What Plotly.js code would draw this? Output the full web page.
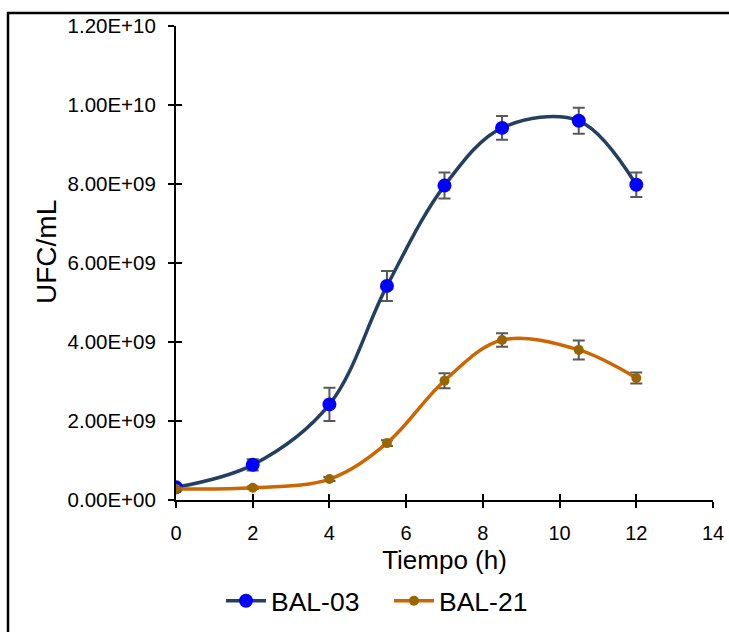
<!DOCTYPE html>
<html>
<head>
<meta charset="utf-8">
<script src="https://cdn.plot.ly/plotly-3.0.1.min.js"></script>
<style>
html,body{margin:0;padding:0;background:#fff;}
#chart{width:729px;height:632px;}
</style>
</head>
<body>
<div id="chart"></div>
<script>
// Data
const tiempo = [0, 2, 4, 5.5, 7, 8.5, 10.5, 12];
const bal03 = [0.32e9, 0.89e9, 2.42e9, 5.42e9, 7.96e9, 9.42e9, 9.60e9, 7.98e9];
const bal03Err = [0.05e9, 0.14e9, 0.42e9, 0.38e9, 0.33e9, 0.30e9, 0.33e9, 0.31e9];
const bal21 = [0.28e9, 0.31e9, 0.53e9, 1.44e9, 3.02e9, 4.05e9, 3.80e9, 3.09e9];
const bal21Err = [0.03e9, 0.03e9, 0.05e9, 0.07e9, 0.19e9, 0.17e9, 0.24e9, 0.14e9];
const yTickVals = [0, 2e9, 4e9, 6e9, 8e9, 1e10, 1.2e10];
const yTickText = ['0.00E+00', '2.00E+09', '4.00E+09', '6.00E+09', '8.00E+09', '1.00E+10', '1.20E+10'];
const xTickVals = [0, 2, 4, 6, 8, 10, 12, 14];

const fontFam = 'Liberation Sans, Arial, sans-serif';
const L = 176, R = 16, T = 26, B = 132, W = 729, H = 632;
const pw = W - L - R, ph = H - T - B;
const px2x = p => (p - L) / pw;
const px2y = p => (H - B - p) / ph;

const traces = [
  {
    x: tiempo, y: bal03, name: 'BAL-03', type: 'scatter', mode: 'lines+markers',
    line: {color: '#243F60', width: 3.5, shape: 'spline', smoothing: 1},
    marker: {color: '#0000FF', size: 14},
    error_y: {type: 'data', array: bal03Err, visible: true, color: '#595959', thickness: 2, width: 6}
  },
  {
    x: tiempo, y: bal21, name: 'BAL-21', type: 'scatter', mode: 'lines+markers',
    line: {color: '#CC6600', width: 3.5, shape: 'spline', smoothing: 1},
    marker: {color: '#996600', size: 10},
    error_y: {type: 'data', array: bal21Err, visible: true, color: '#595959', thickness: 2, width: 6}
  },
  {x: [], y: [], xaxis: 'x2', yaxis: 'y2', showlegend: false, hoverinfo: 'skip', type: 'scatter'}
];

const layout = {
  width: W, height: H,
  margin: {l: L, r: R, t: T, b: B, autoexpand: false},
  paper_bgcolor: '#fff', plot_bgcolor: 'rgba(0,0,0,0)',
  font: {family: fontFam, color: '#000'},
  showlegend: true,
  legend: {
    orientation: 'h', x: px2x(221), xanchor: 'left', y: px2y(577), yanchor: 'top',
    font: {size: 26.5, family: fontFam, color: '#000'}, itemwidth: 40,
    entrywidth: 113, entrywidthmode: 'pixels', tracegroupgap: 0
  },
  xaxis: {
    range: [0, 14], tickvals: xTickVals, showgrid: false, zeroline: false, automargin: false,
    showline: true, linecolor: '#000', linewidth: 2,
    ticks: 'outside', ticklen: 6, tickwidth: 2, tickcolor: '#000',
    tickfont: {size: 20, family: fontFam}, ticklabelstandoff: 8,
    title: {text: 'Tiempo (h)', font: {size: 26, family: fontFam}, standoff: 8}
  },
  yaxis: {
    range: [0, 1.2e10], tickvals: yTickVals, ticktext: yTickText, showgrid: false, zeroline: false,
    automargin: false,
    showline: true, linecolor: '#000', linewidth: 2,
    ticks: 'outside', ticklen: 6, tickwidth: 2, tickcolor: '#000',
    tickfont: {size: 20.5, family: fontFam}, ticklabelstandoff: 8
  },
  xaxis2: {
    overlaying: 'x', range: [0, 14], tickvals: xTickVals, showticklabels: false, showgrid: false,
    zeroline: false, showline: false, ticks: 'inside', ticklen: 6, tickwidth: 2, tickcolor: '#000',
    anchor: 'y2', side: 'bottom', automargin: false
  },
  yaxis2: {
    overlaying: 'y', range: [0, 1.2e10], tickvals: yTickVals, showticklabels: false, showgrid: false,
    zeroline: false, showline: false, ticks: 'inside', ticklen: 6, tickwidth: 2, tickcolor: '#000',
    anchor: 'x2', side: 'left', automargin: false
  },
  annotations: [
    {text: 'UFC/mL', xref: 'paper', yref: 'paper', x: px2x(47), y: px2y(252),
     xanchor: 'center', yanchor: 'middle', textangle: -90, showarrow: false,
     font: {size: 28, family: fontFam, color: '#000'}}
  ],
  shapes: [
    {type: 'rect', xref: 'paper', yref: 'paper', x0: px2x(8), x1: 1.2, y0: -0.5, y1: px2y(13),
     line: {color: '#000', width: 2.5}, fillcolor: 'rgba(0,0,0,0)', layer: 'below'}
  ]
};

Plotly.newPlot('chart', traces, layout, {displayModeBar: false, staticPlot: true});
</script>
</body>
</html>
